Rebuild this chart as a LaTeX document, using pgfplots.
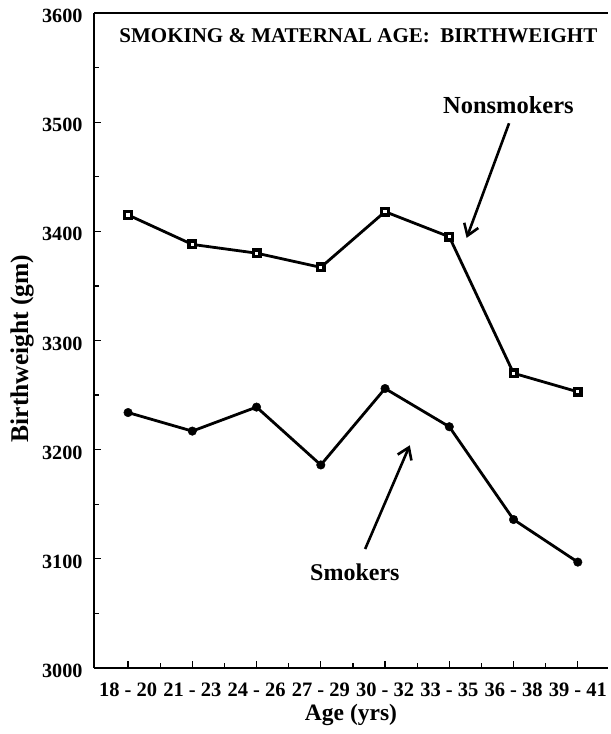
\documentclass[border=0pt]{standalone}
\usepackage{fontspec}
\setmainfont{Liberation Serif}
\usepackage{pgfplots}
\pgfplotsset{compat=1.18}
\usetikzlibrary{arrows.meta}
\newcommand{\rg}[2]{#1\hspace{0.25em}-\hspace{0.25em}#2}
\begin{document}
\begin{tikzpicture}
\begin{axis}[
  scale only axis,
  width=514pt, height=655pt,
  xmin=-0.53, xmax=7.47,
  ymin=3000, ymax=3600,
  axis lines*=left,
  axis line style={line width=1.8pt},
  xtick={0,...,7},
  xticklabels={\rg{18}{20},\rg{21}{23},\rg{24}{26},\rg{27}{29},\rg{30}{32},\rg{33}{35},\rg{36}{38},\rg{39}{41}},
  minor xtick={0.5,1.5,2.5,3.5,4.5,5.5,6.5},
  ytick={3000,3100,3200,3300,3400,3500,3600},
  minor ytick={3050,3150,3250,3350,3450,3550},
  yticklabel style={font=\fontsize{20.2}{22}\selectfont\bfseries, xshift=-8pt, yshift=-3pt,
    /pgf/number format/set thousands separator={},
    /pgf/number format/assume math mode=true},
  xticklabel style={font=\fontsize{20.5}{22}\selectfont\bfseries, anchor=center, yshift=-22pt},
  tick style={line width=1.3pt, black},
  major tick length=7pt, minor tick length=5pt,
  tick align=inside,
  xlabel={\fontsize{23.5}{25}\selectfont\bfseries Age (yrs)},
  ylabel={\fontsize{25.5}{27}\selectfont\bfseries Birthweight (gm)},
  xlabel style={at={(axis description cs:0.5,0)}, anchor=center, yshift=-47pt},
  ylabel style={at={(axis description cs:-0.140,0.488)}, anchor=center},
  clip=false,
]
\path ([xshift=-94pt,yshift=-66pt]rel axis cs:0,0) rectangle ([yshift=13pt]rel axis cs:1,1);
\draw[line width=1.2pt] (rel axis cs:0,1) -- (rel axis cs:1,1);
\addplot[black, line width=2.8pt, mark=square*, mark size=3.3pt,
  mark options={fill=white, line width=3.4pt, solid}] coordinates {
(0,3415) (1,3388) (2,3380) (3,3367) (4,3418) (5,3395) (6,3270) (7,3253)};
\addplot[black, line width=2.8pt, mark=*, mark size=4.3pt,
  mark options={fill=black, line width=0.4pt, solid}] coordinates {
(0,3234) (1,3217) (2,3239) (3,3186) (4,3256) (5,3221) (6,3136) (7,3097)};
\node[font=\fontsize{21}{23}\selectfont\bfseries] at (axis cs:3.585,3579) {SMOKING \& MATERNAL AGE:\ \ BIRTHWEIGHT};
\node[font=\fontsize{24.5}{26}\selectfont\bfseries] at (axis cs:5.92,3516) {Nonsmokers};
\node[font=\fontsize{24}{26}\selectfont\bfseries] at (axis cs:3.53,3088) {Smokers};
\draw[line width=2.6pt, ->, >={Straight Barb[length=11pt,width=15pt]}] (axis cs:5.93,3499) -- (axis cs:5.27,3394);
\draw[line width=2.6pt, ->, >={Straight Barb[length=11pt,width=15pt]}] (axis cs:3.69,3109) -- (axis cs:4.385,3204);
\end{axis}
\end{tikzpicture}
\end{document}
